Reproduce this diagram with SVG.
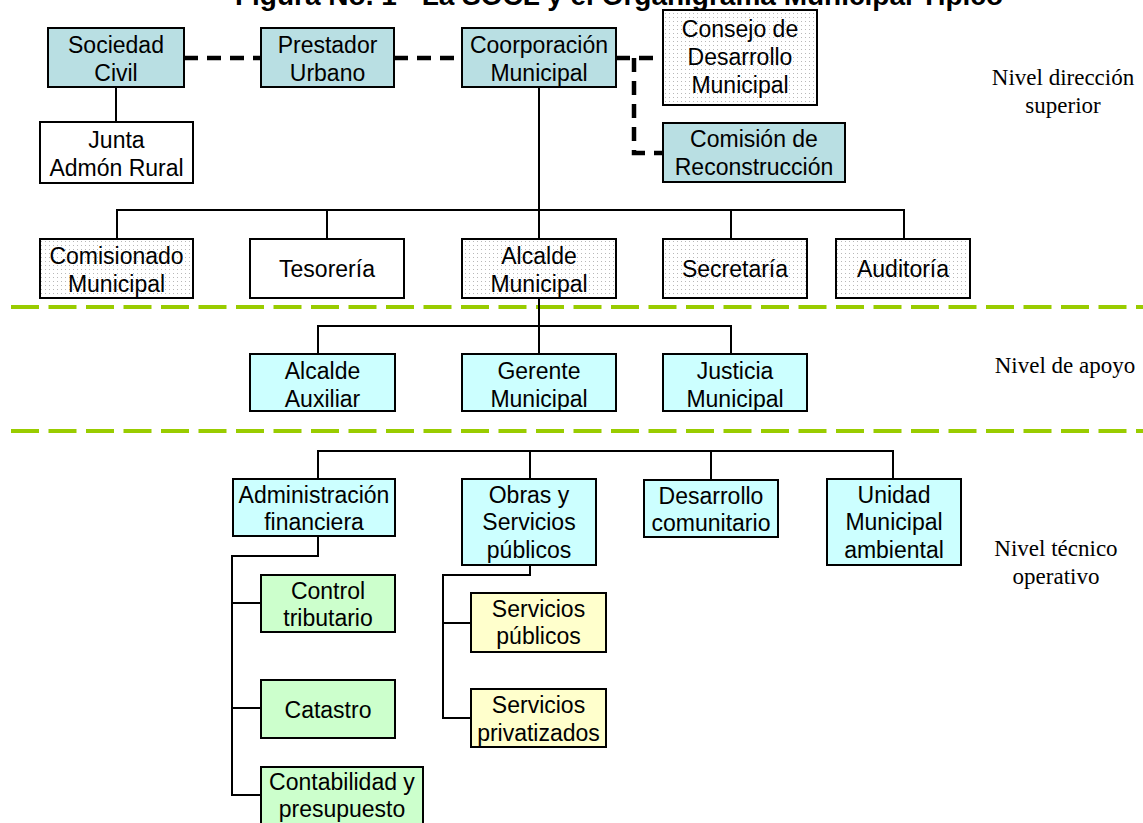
<svg xmlns="http://www.w3.org/2000/svg" width="1143" height="823" viewBox="0 0 1143 823">
<defs>
<pattern id="dots" width="4" height="4" patternUnits="userSpaceOnUse">
<rect width="4" height="4" fill="#ffffff"/>
<rect x="1" y="1" width="1" height="1" fill="#b8b8b8"/>
</pattern>
<style>
.box{stroke:#000;stroke-width:2}
.teal{fill:#b9dfe3}
.cyan{fill:#ccffff}
.green{fill:#ccffcc}
.yellow{fill:#ffffcc}
.white{fill:#ffffff}
.dot{fill:url(#dots)}
text{font-family:"Liberation Sans",Arial,sans-serif;font-size:23px;fill:#000;text-anchor:middle}
.lvl{font-family:"Liberation Serif","Times New Roman",serif;font-size:23px}
.title{font-weight:bold;font-size:28px}
.conn{fill:none;stroke:#000;stroke-width:2}
.dash{fill:none;stroke:#000;stroke-width:4.5;stroke-dasharray:14 9}
.sep{fill:none;stroke:#99cc00;stroke-width:4;stroke-dasharray:28 9.5}
</style>
</defs>
<rect width="1143" height="823" fill="#ffffff"/>
<text class="title" x="619" y="5">Figura No. 1 - La SOCL y el Organigrama Municipal Típico</text>
<g id="separators">
<path class="sep" d="M11 307 H1143"/>
<path class="sep" d="M11 431 H1143"/>
</g>
<g id="connectors">
<path class="conn" d="M116 87 V122"/>
<path class="conn" d="M539 87 V239"/>
<path class="conn" d="M117 239 V210 H904 V239"/>
<path class="conn" d="M327 210 V239 M731 210 V239"/>
<path class="conn" d="M539 298 V354"/>
<path class="conn" d="M318 354 V326 H731 V354"/>
<path class="conn" d="M318 479 V451 H893 V479 M530 451 V479 M711 451 V480"/>
<path class="conn" d="M318 536 V556 H232 V795 H261 M232 603 H261 M232 708 H261"/>
<path class="conn" d="M530 565 V575 H443 V718 H471 M443 623 H471"/>
<path class="dash" d="M184 58 H261"/>
<path class="dash" d="M394 58 H462"/>
<path class="dash" d="M616 58 H663"/>
<path class="dash" d="M634 58 V153 H663"/>
</g>
<g id="sociedad"><rect class="box teal" x="48" y="28" width="136" height="59"/><text x="116" y="53">Sociedad</text><text x="116" y="81">Civil</text></g>
<g id="prestador"><rect class="box teal" x="261" y="28" width="133" height="59"/><text x="327.5" y="53">Prestador</text><text x="327.5" y="81">Urbano</text></g>
<g id="coorporacion"><rect class="box teal" x="462" y="28" width="154" height="59"/><text x="539" y="53">Coorporación</text><text x="539" y="81">Municipal</text></g>
<g id="consejo"><rect class="box dot" x="663" y="10" width="154" height="95"/><text x="740" y="37">Consejo de</text><text x="740" y="65">Desarrollo</text><text x="740" y="93">Municipal</text></g>
<g id="comision"><rect class="box teal" x="663" y="123" width="182" height="59"/><text x="754" y="147">Comisión de</text><text x="754" y="175">Reconstrucción</text></g>
<g id="junta"><rect class="box white" x="40" y="122" width="153" height="61"/><text x="116.5" y="148">Junta</text><text x="116.5" y="176">Admón Rural</text></g>
<g id="comisionado"><rect class="box dot" x="40" y="239" width="153" height="59"/><text x="116.5" y="264">Comisionado</text><text x="116.5" y="292">Municipal</text></g>
<g id="tesoreria"><rect class="box white" x="250" y="239" width="154" height="59"/><text x="327" y="277">Tesorería</text></g>
<g id="alcalde"><rect class="box dot" x="462" y="239" width="154" height="59"/><text x="539" y="264">Alcalde</text><text x="539" y="292">Municipal</text></g>
<g id="secretaria"><rect class="box dot" x="663" y="239" width="144" height="59"/><text x="735" y="277">Secretaría</text></g>
<g id="auditoria"><rect class="box dot" x="836" y="239" width="134" height="59"/><text x="903" y="277">Auditoría</text></g>
<g id="auxiliar"><rect class="box cyan" x="250" y="354" width="145" height="57"/><text x="322.5" y="379">Alcalde</text><text x="322.5" y="407">Auxiliar</text></g>
<g id="gerente"><rect class="box cyan" x="462" y="354" width="154" height="57"/><text x="539" y="379">Gerente</text><text x="539" y="407">Municipal</text></g>
<g id="justicia"><rect class="box cyan" x="663" y="354" width="144" height="57"/><text x="735" y="379">Justicia</text><text x="735" y="407">Municipal</text></g>
<g id="admin"><rect class="box cyan" x="233" y="479" width="162" height="57"/><text x="314" y="503">Administración</text><text x="314" y="530">financiera</text></g>
<g id="obras"><rect class="box cyan" x="462" y="479" width="134" height="86"/><text x="529" y="503">Obras y</text><text x="529" y="530">Servicios</text><text x="529" y="558">públicos</text></g>
<g id="desarrollo"><rect class="box cyan" x="644" y="480" width="134" height="57"/><text x="711" y="504">Desarrollo</text><text x="711" y="531">comunitario</text></g>
<g id="unidad"><rect class="box cyan" x="827" y="479" width="134" height="86"/><text x="894" y="503">Unidad</text><text x="894" y="530">Municipal</text><text x="894" y="558">ambiental</text></g>
<g id="control"><rect class="box green" x="261" y="575" width="134" height="57"/><text x="328" y="599">Control</text><text x="328" y="626">tributario</text></g>
<g id="catastro"><rect class="box green" x="261" y="680" width="134" height="58"/><text x="328" y="718">Catastro</text></g>
<g id="contabilidad"><rect class="box green" x="261" y="767" width="162" height="62"/><text x="342" y="790">Contabilidad y</text><text x="342" y="817">presupuesto</text></g>
<g id="serv-publicos"><rect class="box yellow" x="471" y="593" width="135" height="59"/><text x="538.5" y="617">Servicios</text><text x="538.5" y="644">públicos</text></g>
<g id="serv-privatizados"><rect class="box yellow" x="471" y="689" width="135" height="58"/><text x="538.5" y="713">Servicios</text><text x="538.5" y="741">privatizados</text></g>
<g id="levels">
<text class="lvl" x="1063" y="85">Nivel dirección</text>
<text class="lvl" x="1063" y="113">superior</text>
<text class="lvl" x="1065" y="373">Nivel de apoyo</text>
<text class="lvl" x="1056" y="556">Nivel técnico</text>
<text class="lvl" x="1056" y="584">operativo</text>
</g>
</svg>
